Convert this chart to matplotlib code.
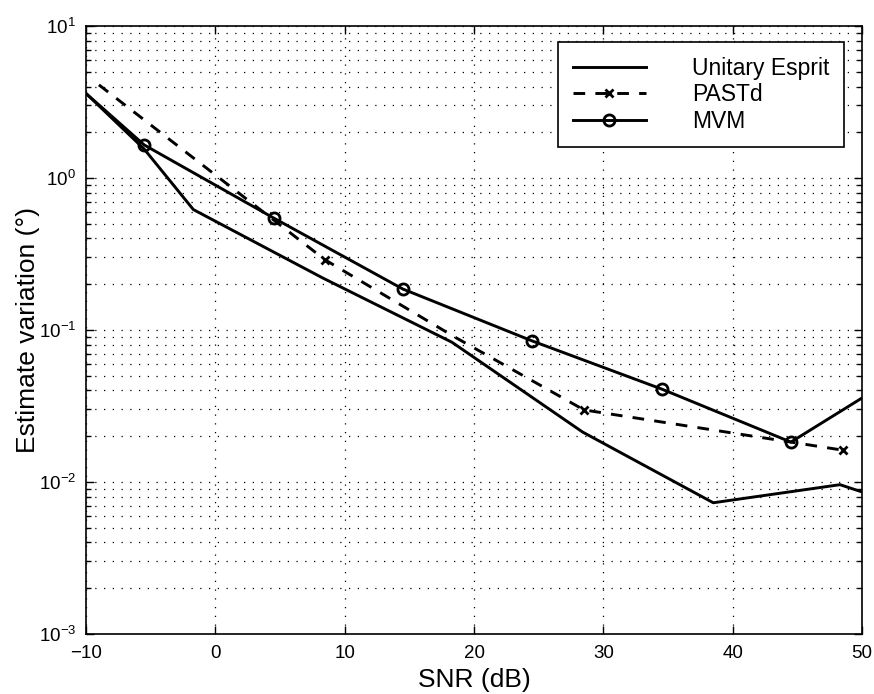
import matplotlib
matplotlib.use("Agg")
import matplotlib.pyplot as plt
import numpy as np
from matplotlib.ticker import LogLocator, NullLocator, NullFormatter

plt.rcParams['font.family'] = ['Liberation Sans', 'DejaVu Sans']
plt.rcParams['mathtext.default'] = 'regular'

# data
esprit_x = [-10, -5.5, -1.7, 8.3, 18.3, 28.4, 38.5, 48.3, 50]
esprit_y = [3.6, 1.55, 0.62, 0.22, 0.083, 0.0213, 0.0073, 0.0096, 0.0086]

pastd_x = [-9, 8.5, 18.5, 28.5, 48.5]
pastd_y = [4.1, 0.289, 0.09, 0.0298, 0.0162]
pastd_marks = [1, 3, 4]

mvm_x = [-10, -5.5, 4.5, 14.5, 24.5, 34.5, 44.5, 50]
mvm_y = [3.6, 1.65, 0.546, 0.186, 0.0847, 0.0409, 0.0183, 0.0357]
mvm_marks = [1, 2, 3, 4, 5, 6]

labels = ['Unitary Esprit', 'PASTd', 'MVM']

fig = plt.figure(figsize=(8.74, 6.94), dpi=100)
ax = fig.add_axes([0.0984, 0.0865, 0.8879, 0.876])

ax.plot(esprit_x, esprit_y, 'k-', lw=2.1, label=labels[0])
ax.plot(pastd_x, pastd_y, 'k--', lw=2.1, marker='x', markevery=pastd_marks,
        ms=6, mew=2.0, dashes=(4, 3.5), label=labels[1])
ax.plot(mvm_x, mvm_y, 'k-', lw=2.1, marker='o', markevery=mvm_marks,
        ms=8, mew=2.0, mfc='none', label=labels[2])

ax.set_yscale('log')
ax.set_xlim(-10, 50)
ax.set_ylim(1e-3, 1e1)
ax.set_xticks(np.arange(-10, 51, 10))
ax.xaxis.set_minor_locator(NullLocator())
ax.yaxis.set_major_locator(LogLocator(base=10, numticks=10))
ax.yaxis.set_minor_locator(LogLocator(base=10, subs=np.arange(2, 10), numticks=20))
ax.yaxis.set_minor_formatter(NullFormatter())

# sparse dotted grid like the old MATLAB print
ax.grid(True, which='major', axis='x', color='k', linestyle=(0, (1, 6)), linewidth=0.9)
ax.grid(True, which='both', axis='y', color='k', linestyle=(0, (1, 6)), linewidth=0.9)

ax.tick_params(which='both', direction='in', top=True, right=True,
               labelsize=13.5, width=1.0)
ax.tick_params(which='major', length=6)
ax.tick_params(which='minor', length=3.5)
ax.tick_params(axis='x', pad=8)
ax.tick_params(axis='y', pad=7)
for s in ax.spines.values():
    s.set_linewidth(1.2)

ax.set_xlabel('SNR (dB)', fontsize=19, labelpad=4)
ax.set_ylabel('Estimate variation (°)', fontsize=19, labelpad=-1)

leg = ax.legend(loc='upper right', bbox_to_anchor=(0.977, 0.974), borderaxespad=0,
                fontsize=16.5, frameon=True, fancybox=False, edgecolor='k',
                handlelength=3.2, handletextpad=2.0, labelspacing=0.15,
                borderpad=0.65)
leg.get_frame().set_linewidth(1.2)
leg.get_frame().set_alpha(1)

fig.savefig('out.png', dpi=100)
